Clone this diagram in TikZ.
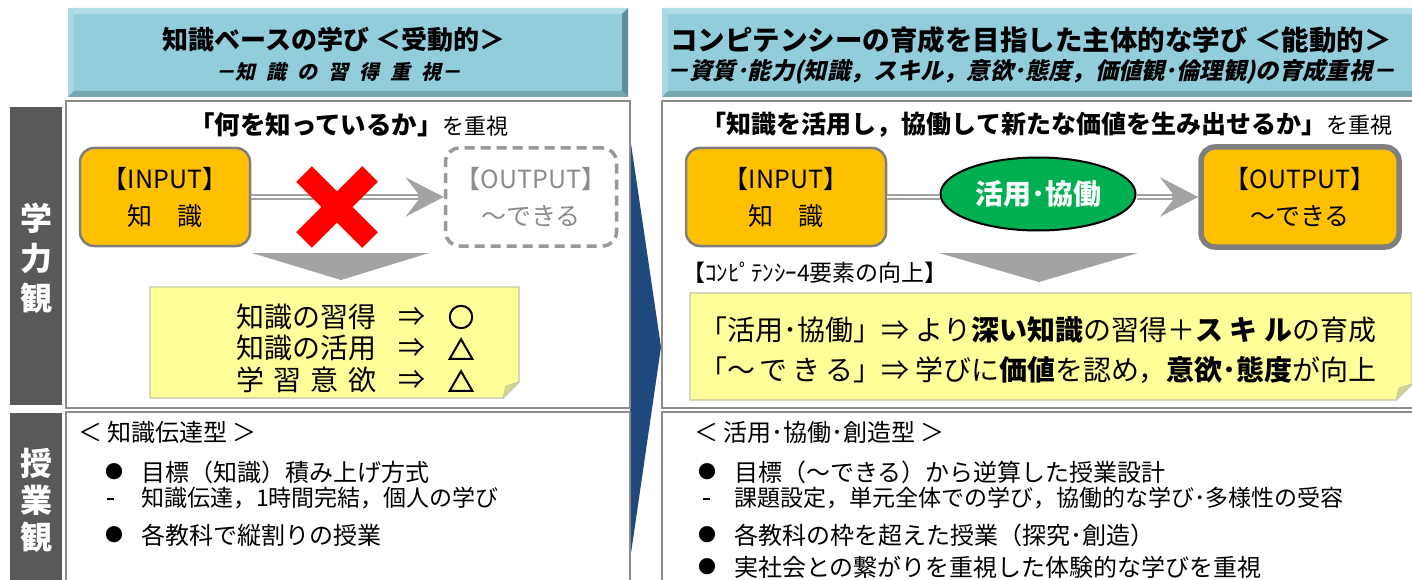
\documentclass[tikz,border=0pt]{standalone}
\usepackage{fontspec}
\setmainfont{Noto Sans CJK JP}
\newfontfamily\jpsl{Noto Sans CJK JP}[FakeSlant=0.22]
\newfontfamily\jpfb{Noto Sans CJK JP}[FakeBold=4]
\usetikzlibrary{arrows.meta,shapes.geometric}
\definecolor{hdrfill}{HTML}{92CDDC}
\definecolor{hdrtop}{HTML}{B2DCE6}
\definecolor{hdrleft}{HTML}{A9D7E2}
\definecolor{hdrright}{HTML}{5E8C98}
\definecolor{hdrbot}{HTML}{78A7B2}
\definecolor{side}{HTML}{595959}
\definecolor{pborder}{HTML}{8C8C8C}
\definecolor{orng}{HTML}{FFC000}
\definecolor{bgray}{HTML}{7F7F7F}
\definecolor{dgray}{HTML}{999999}
\definecolor{tgray}{HTML}{8C8C8C}
\definecolor{agray}{HTML}{A3A3A3}
\definecolor{notey}{HTML}{FFFF99}
\definecolor{noteb}{HTML}{C4C4A8}
\definecolor{foldc}{HTML}{D6D68A}
\definecolor{grn}{HTML}{00B050}
\definecolor{navy}{HTML}{1F497D}
\newcommand\fsz[2]{\fontsize{#1}{#2}\selectfont}
\newcommand\gapk{\kern11pt}
\newcommand\hdrbox[4]{%
  \fill[hdrfill] (#1,#2) rectangle (#3,#4);
  \fill[hdrtop] (#1,#2) -- (#3,#2) -- (#3-6,#2+6) -- (#1+6,#2+6) -- cycle;
  \fill[hdrleft] (#1,#2) -- (#1+6,#2+6) -- (#1+6,#4-6) -- (#1,#4) -- cycle;
  \fill[hdrright] (#3,#2) -- (#3,#4) -- (#3-6,#4-6) -- (#3-6,#2+6) -- cycle;
  \fill[hdrbot] (#1,#4) -- (#3,#4) -- (#3-6,#4-6) -- (#1+6,#4-6) -- cycle;}
\newcommand\notepoly[5]{%
  \filldraw[fill=notey, draw=noteb, line width=1.2pt] (#1,#2) -- (#3,#2) -- (#3,#4-#5) -- (#3-#5,#4) -- (#1,#4) -- cycle;
  \filldraw[fill=foldc, draw=noteb, line width=0.8pt] (#3,#4-#5) -- (#3-#5,#4) -- (#3-#5+3,#4-#5+4) -- cycle;}
\begin{document}
\begin{tikzpicture}[x=1pt,y=-1pt,
  every node/.style={inner sep=0pt},
  panel/.style={draw=pborder, line width=2.5pt},
  inbox/.style={rounded corners=14pt, fill=orng, draw=bgray, line width=2.5pt, align=center, font=\fsz{25}{37}},
  outdash/.style={rounded corners=14pt, fill=white, draw=dgray, line width=3.5pt, dash pattern=on 10pt off 6pt, align=center, text=tgray, font=\fsz{25}{37}},
  outsolid/.style={rounded corners=14pt, fill=orng, draw=bgray, line width=5.5pt, align=center, font=\fsz{25}{37}},
  dblarrow/.style={draw=agray, line width=6.5pt, -{Stealth[length=38pt,width=39pt,inset=15pt]}},
  dblline/.style={draw=agray, line width=6.5pt},
  innerw/.style={draw=white, line width=2pt},
  notetxt/.style={anchor=west, font=\fsz{28}{30}},
  bigtxt/.style={anchor=west, font=\fsz{28}{30}},
  bul/.style={font=\fsz{18}{20}},
  dashmark/.style={fill=black, minimum width=7pt, minimum height=1.3pt},
  item/.style={anchor=west, font=\fsz{24}{28}},
  subitem/.style={anchor=west, font=\fsz{23}{26}},
  sidetxt/.style={text=white, align=center, font=\bfseries}
]
\useasboundingbox (0,0) rectangle (1412,580);
\clip (0,0) rectangle (1412,580);

% headers
\hdrbox{68}{8}{628}{97}
\hdrbox{662}{8}{1418}{97}
\node[font=\fsz{26}{30}\bfseries] (h1L) at (334,40) {知識ベースの学び ＜受動的＞};
\node[font=\fsz{20}{22}\jpsl\bfseries] (s1L) at (338,72) {－知\gapk 識\gapk の\gapk 習\gapk 得\gapk 重\gapk 視－};
\node[font=\fsz{27.5}{30}\bfseries] (h1R) at (1031,40) {コンピテンシーの育成を目指した主体的な学び ＜能動的＞};
\node[font=\fsz{23.3}{26}\jpsl\bfseries] (s1R) at (1031,72) {－資質･能力(知識，スキル，意欲･態度，価値観･倫理観)の育成重視－};

% sidebars
\fill[side] (10,107) rectangle (62,405);
\fill[side] (10,413) rectangle (62,585);
\node[sidetxt, font=\fsz{32}{40}\bfseries] (sb1) at (36,258) {学\\力\\観};
\node[sidetxt, font=\fsz{32}{37}\bfseries] (sb2) at (36,500) {授\\業\\観};

% blue arrow
\fill[navy] (630,137) -- (661,347) -- (630,560) -- cycle;

% panels
\draw[panel] (66,101) rectangle (630,408);
\draw[panel] (66,412) rectangle (630,590);
\draw[panel] (662,101) rectangle (1420,408);
\draw[panel] (662,412) rectangle (1420,590);

% ---------- left top panel ----------
\node (tL) at (349,125) {\fsz{25.5}{30}\bfseries 「何を知っているか」\fsz{22}{30}\mdseries を重視};
\node[inbox, minimum width=170pt, minimum height=98pt] (inL) at (165,197) {【INPUT】\\知　識};
\node[outdash, minimum width=171pt, minimum height=98pt] (outL) at (531,197) {【OUTPUT】\\～できる};
\draw[dblarrow] (inL.east) -- (outL.west);
\draw[innerw, shorten >=26pt] (inL.east) -- (outL.west);
\draw[red, line width=22pt] (304,174) -- (370,240) (370,174) -- (304,240);
\fill[agray] (252,253) -- (429,253) -- (341,280) -- cycle;
\notepoly{150}{287}{519}{398}{16}
\node[notetxt] (k1) at (236,317) {知識の習得};
\node[notetxt] (k2) at (236,348) {知識の活用};
\node[notetxt] (k3) at (236,380) {\makebox[5em][s]{学 習 意 欲}};
\node[font=\fsz{27}{30}] (a1) at (412,317) {⇒};
\node[font=\fsz{27}{30}] (a2) at (412,348) {⇒};
\node[font=\fsz{27}{30}] (a3) at (412,380) {⇒};
\node[font=\fsz{26}{30}\jpfb] (m1) at (461,317) {○};
\node[font=\fsz{26}{30}\jpfb] (m2) at (461,349) {△};
\node[font=\fsz{26}{30}\jpfb] (m3) at (461,381) {△};

% ---------- right top panel ----------
\node (tR) at (1047,125) {\fsz{25}{30}\bfseries 「知識を活用し，協働して新たな価値を生み出せるか」\fsz{22}{30}\mdseries を重視};
\node[inbox, minimum width=200pt, minimum height=98pt] (inR) at (786,197) {【INPUT】\\知　識};
\node[outsolid, minimum width=198pt, minimum height=100pt] (outR) at (1300,197) {【OUTPUT】\\～できる};
\node[ellipse, fill=grn, draw=black, line width=2pt, minimum width=195pt, minimum height=73pt, text=white, font=\fsz{28}{30}\bfseries] (ell) at (1038,194) {活用･協働};
\draw[dblline] (inR.east) -- (inR.east -| ell.west);
\draw[innerw] (inR.east) -- (inR.east -| ell.west);
\draw[dblarrow] (ell.east |- outR.west) -- (outR.west);
\draw[innerw, shorten >=26pt] (ell.east |- outR.west) -- (outR.west);
\fill[agray] (939,253) -- (1138,253) -- (1039,282) -- cycle;
\node[anchor=west, font=\fsz{23}{26}] (lab) at (682,273) {【ｺﾝﾋﾟﾃﾝｼｰ4要素の向上】};
\notepoly{690}{293}{1412}{400}{16}
\node[bigtxt] (r1a) at (699,330) {「活用･協働」};
\node[bigtxt] (r1b) at (r1a.east) {⇒ より{\bfseries 深い知識}の習得＋{\bfseries ス キ ル}の育成};
\node[bigtxt] (r2a) at (699,370) {\makebox[6.5em][s]{「～ で き る」}};
\node[bigtxt] (r2b) at (r2a.east) {⇒ 学びに{\bfseries 価値}を認め，{\bfseries 意欲･態度}が向上};

% ---------- left bottom panel ----------
\node[item] (h2L) at (78,432) {＜\kern5pt 知識伝達型\kern5pt ＞};
\node[bul] (b1L) at (114,472) {●};
\node[item] (t1L) at (141,472) {目標（知識）積み上げ方式};
\node[dashmark] (d1L) at (110,499) {};
\node[subitem] (t2L) at (141,498) {知識伝達，1時間完結，個人の学び};
\node[bul] (b3L) at (114,535) {●};
\node[item] (t3L) at (141,535) {各教科で縦割りの授業};

% ---------- right bottom panel ----------
\node[item] (h2R) at (694,432) {＜\kern5pt 活用･協働･創造型\kern5pt ＞};
\node[bul] (b1R) at (707,472) {●};
\node[item] (t1R) at (734,472) {目標（～できる）から逆算した授業設計};
\node[dashmark] (d1R) at (706,499) {};
\node[subitem] (t2R) at (734,498) {課題設定，単元全体での学び，協働的な学び･多様性の受容};
\node[bul] (b3R) at (707,535) {●};
\node[item] (t3R) at (734,535) {各教科の枠を超えた授業（探究･創造）};
\node[bul] (b4R) at (707,567) {●};
\node[item] (t4R) at (734,567) {実社会との繋がりを重視した体験的な学びを重視};
\end{tikzpicture}
\end{document}
